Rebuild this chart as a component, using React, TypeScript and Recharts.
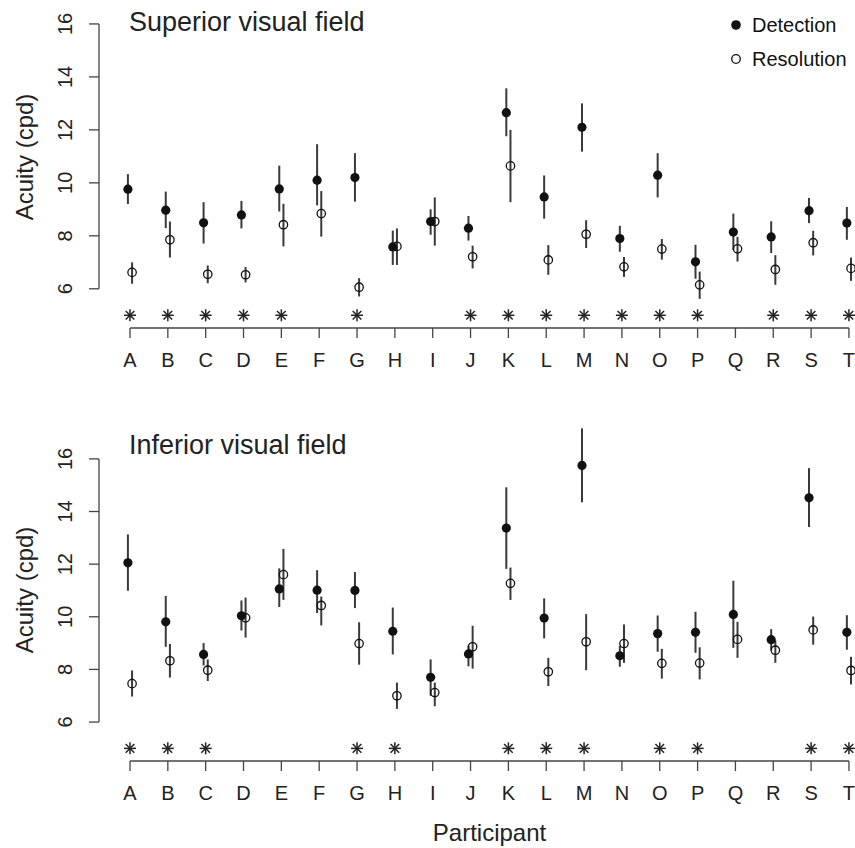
import React from 'react';
import { ScatterChart, Scatter, XAxis, YAxis, ErrorBar, ReferenceLine, Legend, Label } from 'recharts';

const participants = ['A', 'B', 'C', 'D', 'E', 'F', 'G', 'H', 'I', 'J', 'K', 'L', 'M', 'N', 'O', 'P', 'Q', 'R', 'S', 'T'];
const yTicks = [6, 8, 10, 12, 14, 16];

// superior visual field
const supDetection = [9.76, 8.97, 8.49, 8.79, 9.77, 10.1, 10.2, 7.58, 8.54, 8.29, 12.65, 9.47, 12.1, 7.9, 10.29, 7.02, 8.14, 7.96, 8.95, 8.48];
const supDetectionLow = [9.2, 8.29, 7.71, 8.28, 8.92, 9.15, 9.29, 6.9, 8.04, 7.82, 11.76, 8.65, 11.18, 7.4, 9.45, 6.38, 7.47, 7.35, 8.48, 7.85];
const supDetectionHigh = [10.33, 9.67, 9.27, 9.32, 10.65, 11.46, 11.12, 8.2, 9.0, 8.75, 13.57, 10.28, 13.0, 8.38, 11.12, 7.66, 8.84, 8.55, 9.43, 9.09];
const supResolution = [6.62, 7.85, 6.55, 6.53, 8.42, 8.84, 6.06, 7.6, 8.54, 7.21, 10.64, 7.09, 8.06, 6.83, 7.5, 6.15, 7.51, 6.73, 7.74, 6.77];
const supResolutionLow = [6.19, 7.18, 6.21, 6.24, 7.6, 7.97, 5.71, 6.9, 7.63, 6.77, 9.27, 6.53, 7.54, 6.45, 7.1, 5.62, 7.03, 6.15, 7.26, 6.3];
const supResolutionHigh = [7.0, 8.54, 6.88, 6.82, 9.21, 9.69, 6.4, 8.28, 9.45, 7.63, 12.0, 7.65, 8.59, 7.2, 7.88, 6.65, 7.96, 7.27, 8.19, 7.18];
const supSignificant = ['A', 'B', 'C', 'D', 'E', 'G', 'J', 'K', 'L', 'M', 'N', 'O', 'P', 'R', 'S', 'T'];

// inferior visual field
const infDetection = [12.05, 9.81, 8.57, 10.04, 11.06, 11.01, 11.0, 9.45, 7.7, 8.59, 13.37, 9.95, 15.75, 8.52, 9.36, 9.41, 10.09, 9.13, 14.52, 9.41];
const infDetectionLow = [10.99, 8.86, 8.15, 9.48, 10.37, 10.14, 10.33, 8.57, 7.0, 8.12, 11.82, 9.18, 14.35, 8.1, 8.67, 8.63, 8.82, 8.73, 13.41, 8.75];
const infDetectionHigh = [13.13, 10.79, 9.0, 10.62, 11.84, 11.77, 11.7, 10.35, 8.38, 8.9, 14.92, 10.7, 17.16, 8.9, 10.05, 10.19, 11.37, 9.53, 15.65, 10.06];
const infResolution = [7.46, 8.33, 7.97, 9.96, 11.6, 10.43, 8.98, 7.0, 7.12, 8.86, 11.27, 7.91, 9.05, 8.98, 8.23, 8.24, 9.14, 8.73, 9.5, 7.96];
const infResolutionLow = [6.97, 7.69, 7.56, 9.21, 10.64, 9.67, 8.18, 6.5, 6.6, 8.03, 10.64, 7.37, 7.97, 8.25, 7.65, 7.62, 8.44, 8.25, 8.94, 7.43];
const infResolutionHigh = [7.96, 8.97, 8.38, 10.73, 12.58, 10.77, 9.79, 7.5, 7.5, 9.66, 11.87, 8.44, 10.1, 9.71, 8.78, 8.84, 9.81, 9.1, 10.01, 8.48];
const infSignificant = ['A', 'B', 'C', 'G', 'H', 'K', 'L', 'M', 'O', 'P', 'S', 'T'];

const FONT = '"Liberation Sans", Arial, Helvetica, sans-serif';
const INK = '#222';
const AXIS = '#444';
const X_MIN = -0.819;
const X_MAX = 19.16;
const Y_MIN = 4.52;
const STAR_Y = 5;
const SHIFT = 0.055;

const build = (vals: number[], lo: number[], hi: number[], shift: number) =>
  participants.map((p, i) => ({ x: i + shift, y: vals[i], err: [vals[i] - lo[i], hi[i] - vals[i]] }));

const buildStars = (flags: string[]) =>
  participants.map((p, i) => ({ p, x: i, y: STAR_Y })).filter((d) => flags.includes(d.p));

const FilledDot = (props: any) => <circle cx={props.cx} cy={props.cy} r={4.6} fill="#111" />;
const OpenDot = (props: any) => (
  <circle cx={props.cx} cy={props.cy} r={4.2} fill="none" stroke="#111" strokeWidth={1.3} />
);
const Asterisk = (props: any) => {
  const { cx, cy } = props;
  const a = 6;
  const b = 4.3;
  return (
    <g stroke="#222" strokeWidth={1.5}>
      <line x1={cx - a} y1={cy} x2={cx + a} y2={cy} />
      <line x1={cx} y1={cy - a} x2={cx} y2={cy + a} />
      <line x1={cx - b} y1={cy - b} x2={cx + b} y2={cy + b} />
      <line x1={cx - b} y1={cy + b} x2={cx + b} y2={cy - b} />
    </g>
  );
};

const YTick = (props: any) => {
  const { x, y, payload } = props;
  const bx = x - 15;
  return (
    <text x={bx} y={y} transform={`rotate(-90, ${bx}, ${y})`} textAnchor="middle" fontSize={20} fill={INK} fontFamily={FONT}>
      {payload.value}
    </text>
  );
};

const XTick = (props: any) => {
  const { x, y, payload } = props;
  return (
    <text x={x} y={y + 27} textAnchor="middle" fontSize={20} fill={INK} fontFamily={FONT}>
      {participants[payload.value]}
    </text>
  );
};

const LegendBox = () => (
  <div style={{ fontFamily: FONT, fontSize: 20, color: '#111' }}>
    {[true, false].map((filled) => (
      <div key={String(filled)} style={{ display: 'flex', alignItems: 'center', height: 34, lineHeight: '34px' }}>
        <svg width={14} height={14} style={{ marginRight: 9 }}>
          {filled ? (
            <circle cx={7} cy={7} r={4.8} fill="#111" />
          ) : (
            <circle cx={7} cy={7} r={4.3} fill="none" stroke="#111" strokeWidth={1.3} />
          )}
        </svg>
        <span>{filled ? 'Detection' : 'Resolution'}</span>
      </div>
    ))}
  </div>
);

type PanelProps = {
  title: string;
  top: number;
  height: number;
  marginTop: number;
  axisHeight: number;
  yMax: number;
  labelY: number;
  det: number[];
  detLo: number[];
  detHi: number[];
  res: number[];
  resLo: number[];
  resHi: number[];
  flags: string[];
  legend?: boolean;
  xTitle?: boolean;
};

const Panel = (p: PanelProps) => {
  const detData = build(p.det, p.detLo, p.detHi, -SHIFT);
  const resData = build(p.res, p.resLo, p.resHi, SHIFT);
  const stars = buildStars(p.flags);
  return (
    <div style={{ position: 'absolute', left: 0, top: p.top, width: 855, height: p.height }}>
      <ScatterChart width={855} height={p.height} margin={{ top: p.marginTop, right: 0, bottom: 0, left: 0 }}>
        <XAxis
          type="number"
          dataKey="x"
          domain={[X_MIN, X_MAX]}
          allowDataOverflow
          ticks={participants.map((_, i) => i)}
          interval={0}
          height={p.axisHeight}
          axisLine={false}
          tickSize={10}
          tickLine={{ stroke: AXIS, strokeWidth: 1.3 }}
          tick={<XTick />}
        >
          {p.xTitle && (
            <Label
              content={() => (
                <text x={489.5} y={p.height - 7} textAnchor="middle" fontSize={24} fill={INK} fontFamily={FONT}>
                  Participant
                </text>
              )}
            />
          )}
        </XAxis>
        <YAxis
          type="number"
          dataKey="y"
          domain={[Y_MIN, p.yMax]}
          allowDataOverflow
          ticks={yTicks}
          width={99}
          axisLine={false}
          tickSize={10}
          tickLine={{ stroke: AXIS, strokeWidth: 1.3 }}
          tick={<YTick />}
        >
          <Label
            content={() => (
              <text
                x={33}
                y={p.labelY}
                transform={`rotate(-90, 33, ${p.labelY})`}
                textAnchor="middle"
                fontSize={24}
                fill={INK}
                fontFamily={FONT}
              >
                Acuity (cpd)
              </text>
            )}
          />
        </YAxis>
        <ReferenceLine
          segment={[{ x: X_MIN, y: yTicks[0] }, { x: X_MIN, y: yTicks[yTicks.length - 1] }]}
          stroke={AXIS}
          strokeWidth={1.3}
          ifOverflow="visible"
        />
        <ReferenceLine
          segment={[{ x: 0, y: Y_MIN }, { x: participants.length - 1, y: Y_MIN }]}
          stroke={AXIS}
          strokeWidth={1.3}
          ifOverflow="visible"
        />
        <Scatter name="Resolution" data={resData} shape={OpenDot} isAnimationActive={false}>
          <ErrorBar dataKey="err" direction="y" width={0} stroke="#3a3a3a" strokeWidth={2} />
        </Scatter>
        <Scatter name="Detection" data={detData} shape={FilledDot} isAnimationActive={false}>
          <ErrorBar dataKey="err" direction="y" width={0} stroke="#3a3a3a" strokeWidth={2} />
        </Scatter>
        <Scatter name="Significant" data={stars} shape={Asterisk} isAnimationActive={false} legendType="none" />
        {p.legend && (
          <Legend
            layout="vertical"
            align="center"
            verticalAlign="middle"
            wrapperStyle={{ top: 8, left: 729, width: 126 }}
            content={() => <LegendBox />}
          />
        )}
      </ScatterChart>
    </div>
  );
};

const App = () => (
  <div style={{ position: 'absolute', left: 0, top: 0, width: 855, height: 848, background: '#fff', fontFamily: FONT }}>
    <Panel
      title="Superior visual field"
      top={0}
      height={400}
      marginTop={10.7}
      axisHeight={72}
      yMax={16.5}
      labelY={157}
      det={supDetection}
      detLo={supDetectionLow}
      detHi={supDetectionHigh}
      res={supResolution}
      resLo={supResolutionLow}
      resHi={supResolutionHigh}
      flags={supSignificant}
      legend
    />
    <Panel
      title="Inferior visual field"
      top={400}
      height={448}
      marginTop={19.4}
      axisHeight={87}
      yMax={17.5}
      labelY={190}
      det={infDetection}
      detLo={infDetectionLow}
      detHi={infDetectionHigh}
      res={infResolution}
      resLo={infResolutionLow}
      resHi={infResolutionHigh}
      flags={infSignificant}
      xTitle
    />
    <div style={{ position: 'absolute', left: 129, top: 9, fontSize: 27, lineHeight: '27px', color: INK, whiteSpace: 'nowrap' }}>
      Superior visual field
    </div>
    <div style={{ position: 'absolute', left: 129, top: 432, fontSize: 27, lineHeight: '27px', color: INK, whiteSpace: 'nowrap' }}>
      Inferior visual field
    </div>
  </div>
);

export default App;
